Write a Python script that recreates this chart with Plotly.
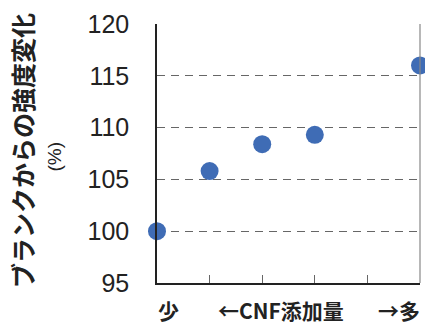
import plotly.graph_objects as go

# CNF loading steps (ordinal positions) and strength relative to blank (%)
x_steps = [0, 1, 2, 3, 5]
strength_pct = [100.0, 105.8, 108.4, 109.3, 116.0]

y_ticks = [95, 100, 105, 110, 115, 120]
x_labels = ["少", "←CNF添加量", "→多"]
x_label_pos = [0.22, 2.35, 4.6]

jp_font = "Noto Sans CJK JP"
num_font = "Liberation Sans, Arial, sans-serif"

fig = go.Figure()
fig.add_trace(go.Scatter(
    x=x_steps, y=strength_pct, mode="markers",
    marker=dict(size=18, color="#3F6CB5"),
    cliponaxis=False, showlegend=False,
))

for txt, xp in zip(x_labels, x_label_pos):
    fig.add_annotation(
        x=xp, y=-0.104, xref="x", yref="paper", xanchor="center", yanchor="middle",
        text=f"<b>{txt}</b>", showarrow=False,
        font=dict(family=jp_font, size=21, color="#222"),
    )

# y-axis title and its unit line
fig.add_annotation(
    x=-0.513, y=0.51, xref="paper", yref="paper", textangle=-90,
    xanchor="center", yanchor="middle",
    text="<b>ブランクからの強度変化</b>", showarrow=False,
    font=dict(family=jp_font, size=25, color="#222"),
)
fig.add_annotation(
    x=-0.39, y=0.49, xref="paper", yref="paper", textangle=-90,
    xanchor="center", yanchor="middle",
    text="(%)", showarrow=False,
    font=dict(family=num_font, size=19, color="#222"),
)

# right border of plot area
fig.add_shape(type="line", xref="paper", yref="paper", x0=1, x1=1, y0=0, y1=1,
              line=dict(color="#888", width=1.2))

fig.update_layout(
    width=425, height=325,
    margin=dict(l=157, r=5, t=24, b=42),
    paper_bgcolor="white", plot_bgcolor="white",
    xaxis=dict(
        range=[0, 5], tickvals=[1, 2, 3, 4], showticklabels=False,
        ticks="inside", ticklen=8, tickcolor="#666", tickwidth=1,
        showgrid=False, zeroline=False,
        showline=True, linecolor="#222", linewidth=1.5,
    ),
    yaxis=dict(
        range=[95, 120], tickvals=y_ticks,
        tickfont=dict(family=num_font, size=25, color="#222"),
        ticks="", ticklabelstandoff=21,
        showgrid=True, gridcolor="#666", gridwidth=1.2, griddash="8px,6px",
        zeroline=False, showline=True, linecolor="#222", linewidth=1.5,
    ),
)

fig.write_html("out.html")
